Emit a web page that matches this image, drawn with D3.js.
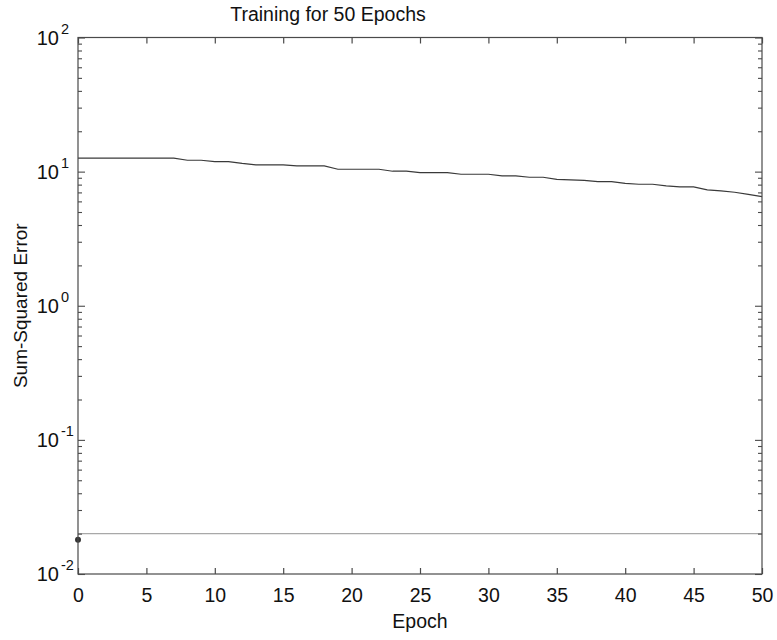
<!DOCTYPE html>
<html>
<head>
<meta charset="utf-8">
<script src="https://cdn.jsdelivr.net/npm/d3@7"></script>
<style>
  html, body { margin: 0; padding: 0; background: #fff; }
  svg { display: block; font-family: "Liberation Sans", Arial, Helvetica, sans-serif; }
</style>
</head>
<body>
<svg id="chart" width="777" height="640"></svg>
<script>
// ---- data ----
const title = "Training for 50 Epochs";
const xLabel = "Epoch";
const yLabel = "Sum-Squared Error";
const epochs = d3.range(0, 51);
const sse = [
  12.59, 12.59, 12.59, 12.59, 12.59, 12.59, 12.59, 12.59,
  12.16, 12.16, 11.87, 11.87, 11.51, 11.22, 11.22, 11.22,
  11.03, 11.03, 11.03, 10.42, 10.42, 10.42, 10.42, 10.07,
  10.07, 9.83, 9.83, 9.83, 9.56, 9.56, 9.56, 9.29,
  9.29, 9.08, 9.08, 8.75, 8.67, 8.60, 8.42, 8.42,
  8.17, 8.05, 8.05, 7.83, 7.69, 7.69, 7.30, 7.18,
  7.02, 6.76, 6.51
];
const goal = 0.02;
const startPoint = [0, 0.018];
const xTicks = [0, 5, 10, 15, 20, 25, 30, 35, 40, 45, 50];
const yDecades = [-2, -1, 0, 1, 2];

// ---- layout ----
const L = 78, R = 762, T = 37.5, B = 574;
const svg = d3.select("#chart");
const x = d3.scaleLinear().domain([0, 50]).range([L, R]);
const y = d3.scaleLog().domain([0.01, 100]).range([B, T]);

const axisColor = "#4a4a4a";
const fs = 19.5;

// goal line
svg.append("line")
  .attr("x1", x(0)).attr("x2", x(50))
  .attr("y1", y(goal)).attr("y2", y(goal))
  .attr("stroke", "#a8a8a8").attr("stroke-width", 1.2);

// data line
const line = d3.line().x((d, i) => x(epochs[i])).y(d => y(d));
svg.append("path")
  .datum(sse)
  .attr("d", line)
  .attr("fill", "none")
  .attr("stroke", "#3a3a3a")
  .attr("stroke-width", 1.2);

// start point
svg.append("circle")
  .attr("cx", x(startPoint[0])).attr("cy", y(startPoint[1]))
  .attr("r", 3).attr("fill", "#333");

// frame
svg.append("rect")
  .attr("x", L).attr("y", T).attr("width", R - L).attr("height", B - T)
  .attr("fill", "none").attr("stroke", axisColor).attr("stroke-width", 1.2);

// x axes (bottom & top) with inward ticks
const xb = d3.axisBottom(x).tickValues(xTicks).tickSizeInner(-6).tickSizeOuter(0);
const gxb = svg.append("g").attr("transform", `translate(0,${B})`).call(xb);
gxb.select(".domain").remove();
gxb.selectAll("line").attr("stroke", axisColor).attr("stroke-width", 1.2);
gxb.selectAll("text").attr("font-size", fs).attr("fill", "#111")
  .attr("dy", "0.71em").attr("y", 14.5);

const xt = d3.axisTop(x).tickValues(xTicks).tickSizeInner(-6).tickSizeOuter(0).tickFormat("");
const gxt = svg.append("g").attr("transform", `translate(0,${T})`).call(xt);
gxt.select(".domain").remove();
gxt.selectAll("line").attr("stroke", axisColor).attr("stroke-width", 1.2);

// y ticks (major + minor), left and right, inward
const minorVals = [];
for (let e = -2; e < 2; e++) for (let m = 2; m <= 9; m++) minorVals.push(m * Math.pow(10, e));
const majorVals = yDecades.map(e => Math.pow(10, e));

function yTicks(axisFn, tx, size, vals) {
  const a = axisFn(y).tickValues(vals).tickSizeInner(size).tickSizeOuter(0).tickFormat("");
  const g = svg.append("g").attr("transform", `translate(${tx},0)`).call(a);
  g.select(".domain").remove();
  g.selectAll("line").attr("stroke", axisColor).attr("stroke-width", 1.1);
  return g;
}
yTicks(d3.axisLeft, L, -4, minorVals);
yTicks(d3.axisLeft, L, -7, majorVals);
yTicks(d3.axisRight, R, -4, minorVals);
yTicks(d3.axisRight, R, -7, majorVals);

// y tick labels 10^n
const yl = svg.append("g");
yDecades.forEach(e => {
  const yy = y(Math.pow(10, e));
  yl.append("text")
    .attr("x", 59).attr("y", yy + 7)
    .attr("text-anchor", "end")
    .attr("font-size", 20).attr("fill", "#111")
    .text("10");
  yl.append("text")
    .attr("x", 61).attr("y", yy - 4)
    .attr("text-anchor", "start")
    .attr("font-size", 14.5).attr("fill", "#111")
    .text(String(e));
});

// title
svg.append("text")
  .attr("x", 328).attr("y", 21)
  .attr("text-anchor", "middle")
  .attr("font-size", fs).attr("fill", "#111")
  .text(title);

// x label
svg.append("text")
  .attr("x", (L + R) / 2).attr("y", 628)
  .attr("text-anchor", "middle")
  .attr("font-size", fs).attr("fill", "#111")
  .text(xLabel);

// y label
svg.append("text")
  .attr("transform", `translate(27,${(T + B) / 2}) rotate(-90)`)
  .attr("text-anchor", "middle")
  .attr("font-size", 19).attr("fill", "#111")
  .text(yLabel);
</script>
</body>
</html>
